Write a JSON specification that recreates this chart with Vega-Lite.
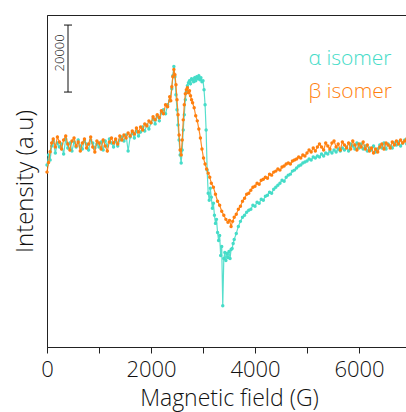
{
"$schema": "https://vega.github.io/schema/vega-lite/v6.json",
"width": 364, "height": 332,
"autosize": {"type": "none"},
"padding": {"left": 47, "top": 15, "right": 0, "bottom": 65},
"background": "white",
"config": {"view": {"stroke": "#222", "strokeWidth": 1}, "font": "Open Sans"},
"datasets": {
"alpha": [
{"x":0,"y":-6000},{"x":30,"y":-3000},{"x":60,"y":-4500},{"x":90,"y":-300},{"x":120,"y":1200},{"x":160,"y":-2400},{"x":200,"y":600},{"x":240,"y":-600},{"x":280,"y":300},{"x":320,"y":-2700},{"x":360,"y":1800},{"x":400,"y":-900},{"x":440,"y":600},{"x":480,"y":-1800},{"x":520,"y":900},{"x":560,"y":-600},{"x":600,"y":1500},{"x":640,"y":-300},{"x":680,"y":-1200},{"x":720,"y":1200},{"x":760,"y":300},{"x":800,"y":-1500},{"x":840,"y":1500},{"x":880,"y":600},{"x":920,"y":-900},{"x":960,"y":300},{"x":1000,"y":-600},{"x":1040,"y":900},{"x":1080,"y":-1500},{"x":1120,"y":1200},{"x":1160,"y":-300},{"x":1200,"y":1800},{"x":1240,"y":600},{"x":1280,"y":-600},{"x":1320,"y":1200},{"x":1360,"y":-300},{"x":1400,"y":1500},{"x":1440,"y":2400},{"x":1480,"y":1200},{"x":1520,"y":3000},{"x":1560,"y":-1800},{"x":1600,"y":2400},{"x":1640,"y":3600},{"x":1680,"y":2100},{"x":1720,"y":4200},{"x":1760,"y":2700},{"x":1800,"y":3900},{"x":1840,"y":5400},{"x":1880,"y":4200},{"x":1920,"y":6000},{"x":1960,"y":4800},{"x":2000,"y":6600},{"x":2040,"y":7800},{"x":2080,"y":6300},{"x":2120,"y":8700},{"x":2160,"y":7200},{"x":2200,"y":9600},{"x":2240,"y":10500},{"x":2280,"y":9300},{"x":2320,"y":12000},{"x":2360,"y":13200},{"x":2400,"y":16800},{"x":2420,"y":20700},{"x":2440,"y":23400},{"x":2460,"y":20400},{"x":2480,"y":15000},{"x":2500,"y":10500},{"x":2520,"y":6000},{"x":2540,"y":1500},{"x":2560,"y":-3000},{"x":2580,"y":-5400},{"x":2600,"y":-1500},{"x":2620,"y":4500},{"x":2640,"y":9000},{"x":2660,"y":13500},{"x":2680,"y":15900},{"x":2700,"y":17700},{"x":2720,"y":18600},{"x":2740,"y":19200},{"x":2760,"y":18300},{"x":2780,"y":19800},{"x":2800,"y":19500},{"x":2820,"y":18900},{"x":2840,"y":20100},{"x":2860,"y":19200},{"x":2880,"y":20400},{"x":2900,"y":19800},{"x":2920,"y":20700},{"x":2940,"y":19500},{"x":2960,"y":20100},{"x":2980,"y":18900},{"x":3000,"y":19200},{"x":3020,"y":16500},{"x":3040,"y":12000},{"x":3060,"y":4500},{"x":3080,"y":-7500},{"x":3100,"y":-14400},{"x":3120,"y":-16500},{"x":3140,"y":-12900},{"x":3160,"y":-15600},{"x":3180,"y":-18900},{"x":3200,"y":-17400},{"x":3220,"y":-21000},{"x":3240,"y":-23400},{"x":3260,"y":-22200},{"x":3280,"y":-26100},{"x":3300,"y":-28500},{"x":3320,"y":-27000},{"x":3340,"y":-33000},{"x":3360,"y":-30300},{"x":3380,"y":-48000},{"x":3400,"y":-33900},{"x":3420,"y":-32100},{"x":3440,"y":-34500},{"x":3460,"y":-32400},{"x":3480,"y":-33600},{"x":3500,"y":-31800},{"x":3520,"y":-33900},{"x":3540,"y":-31200},{"x":3560,"y":-30900},{"x":3580,"y":-29400},{"x":3600,"y":-28200},{"x":3640,"y":-26400},{"x":3680,"y":-24300},{"x":3720,"y":-22800},{"x":3760,"y":-21600},{"x":3800,"y":-21000},{"x":3840,"y":-20100},{"x":3880,"y":-19500},{"x":3920,"y":-19200},{"x":3960,"y":-18000},{"x":4000,"y":-18300},{"x":4040,"y":-17100},{"x":4080,"y":-17400},{"x":4120,"y":-16200},{"x":4160,"y":-16500},{"x":4200,"y":-15300},{"x":4240,"y":-15000},{"x":4280,"y":-14100},{"x":4320,"y":-14400},{"x":4360,"y":-13200},{"x":4400,"y":-12600},{"x":4440,"y":-12000},{"x":4480,"y":-11400},{"x":4520,"y":-10500},{"x":4560,"y":-10800},{"x":4600,"y":-9600},{"x":4640,"y":-9000},{"x":4680,"y":-8700},{"x":4720,"y":-7800},{"x":4760,"y":-7500},{"x":4800,"y":-6900},{"x":4840,"y":-6300},{"x":4880,"y":-6000},{"x":4920,"y":-5400},{"x":4960,"y":-5100},{"x":5000,"y":-4800},{"x":5040,"y":-4200},{"x":5080,"y":-4500},{"x":5120,"y":-3600},{"x":5160,"y":-3900},{"x":5200,"y":-3300},{"x":5240,"y":-3600},{"x":5280,"y":-2700},{"x":5320,"y":-3300},{"x":5360,"y":-2400},{"x":5400,"y":-2700},{"x":5440,"y":-1800},{"x":5480,"y":-2400},{"x":5520,"y":-1500},{"x":5560,"y":-2100},{"x":5600,"y":-1200},{"x":5640,"y":-1800},{"x":5680,"y":-900},{"x":5720,"y":-1500},{"x":5760,"y":-600},{"x":5800,"y":-1800},{"x":5840,"y":300},{"x":5880,"y":-300},{"x":5920,"y":-1200},{"x":5960,"y":600},{"x":6000,"y":-900},{"x":6040,"y":300},{"x":6080,"y":-1200},{"x":6120,"y":-300},{"x":6160,"y":-1800},{"x":6200,"y":-900},{"x":6240,"y":-1500},{"x":6280,"y":-300},{"x":6320,"y":-2100},{"x":6360,"y":-1200},{"x":6400,"y":0},{"x":6440,"y":-900},{"x":6480,"y":600},{"x":6520,"y":-1200},{"x":6560,"y":300},{"x":6600,"y":-300},{"x":6640,"y":-900},{"x":6680,"y":600},{"x":6720,"y":0},{"x":6760,"y":900},{"x":6800,"y":-300},{"x":6840,"y":600},{"x":6880,"y":1500},{"x":6920,"y":300},{"x":6960,"y":1200},{"x":7000,"y":0}
],
"beta": [
{"x":0,"y":-8100},{"x":30,"y":-5200},{"x":60,"y":-2000},{"x":90,"y":600},{"x":120,"y":1800},{"x":160,"y":-600},{"x":200,"y":2400},{"x":240,"y":900},{"x":280,"y":-1200},{"x":320,"y":1500},{"x":360,"y":2700},{"x":400,"y":300},{"x":440,"y":-1500},{"x":480,"y":1200},{"x":520,"y":2100},{"x":560,"y":-300},{"x":600,"y":900},{"x":640,"y":-1800},{"x":680,"y":600},{"x":720,"y":1800},{"x":760,"y":-900},{"x":800,"y":300},{"x":840,"y":2400},{"x":880,"y":-600},{"x":920,"y":-2100},{"x":960,"y":1200},{"x":1000,"y":600},{"x":1040,"y":-1200},{"x":1080,"y":1500},{"x":1120,"y":-300},{"x":1160,"y":-1800},{"x":1200,"y":900},{"x":1240,"y":2100},{"x":1280,"y":600},{"x":1320,"y":1800},{"x":1360,"y":300},{"x":1400,"y":2700},{"x":1440,"y":1500},{"x":1480,"y":3000},{"x":1520,"y":2100},{"x":1560,"y":3600},{"x":1600,"y":2700},{"x":1640,"y":4200},{"x":1680,"y":3300},{"x":1720,"y":5100},{"x":1760,"y":3900},{"x":1800,"y":5400},{"x":1840,"y":4500},{"x":1880,"y":6300},{"x":1920,"y":5700},{"x":1960,"y":7200},{"x":2000,"y":6600},{"x":2040,"y":8400},{"x":2080,"y":7500},{"x":2120,"y":9000},{"x":2160,"y":8100},{"x":2200,"y":10200},{"x":2240,"y":9300},{"x":2280,"y":12000},{"x":2320,"y":11400},{"x":2360,"y":14400},{"x":2380,"y":13200},{"x":2400,"y":17400},{"x":2420,"y":20400},{"x":2440,"y":22500},{"x":2460,"y":21000},{"x":2480,"y":18000},{"x":2500,"y":13500},{"x":2520,"y":9000},{"x":2540,"y":3000},{"x":2560,"y":-1500},{"x":2580,"y":-3000},{"x":2600,"y":1500},{"x":2620,"y":7500},{"x":2640,"y":12000},{"x":2660,"y":15300},{"x":2680,"y":16500},{"x":2700,"y":17100},{"x":2720,"y":15600},{"x":2740,"y":16200},{"x":2760,"y":14700},{"x":2780,"y":13500},{"x":2800,"y":12600},{"x":2830,"y":11100},{"x":2860,"y":8700},{"x":2890,"y":7200},{"x":2920,"y":4800},{"x":2950,"y":2100},{"x":2980,"y":-1200},{"x":3010,"y":-3900},{"x":3040,"y":-5700},{"x":3070,"y":-7200},{"x":3100,"y":-8400},{"x":3130,"y":-9600},{"x":3160,"y":-11400},{"x":3200,"y":-12600},{"x":3240,"y":-14700},{"x":3280,"y":-16800},{"x":3320,"y":-18000},{"x":3360,"y":-19800},{"x":3400,"y":-21000},{"x":3440,"y":-22200},{"x":3480,"y":-23100},{"x":3510,"y":-22500},{"x":3540,"y":-24300},{"x":3570,"y":-22800},{"x":3600,"y":-21600},{"x":3640,"y":-20700},{"x":3680,"y":-19200},{"x":3720,"y":-18300},{"x":3760,"y":-16800},{"x":3800,"y":-15900},{"x":3840,"y":-14700},{"x":3880,"y":-14400},{"x":3920,"y":-13500},{"x":3960,"y":-12600},{"x":4000,"y":-12300},{"x":4040,"y":-11400},{"x":4080,"y":-11700},{"x":4120,"y":-10500},{"x":4160,"y":-10200},{"x":4200,"y":-9600},{"x":4240,"y":-9900},{"x":4280,"y":-8700},{"x":4320,"y":-9000},{"x":4360,"y":-8100},{"x":4400,"y":-7800},{"x":4440,"y":-7200},{"x":4480,"y":-7500},{"x":4520,"y":-6600},{"x":4560,"y":-6300},{"x":4600,"y":-5700},{"x":4640,"y":-5400},{"x":4680,"y":-5700},{"x":4720,"y":-4800},{"x":4760,"y":-4500},{"x":4800,"y":-4200},{"x":4840,"y":-3600},{"x":4880,"y":-3900},{"x":4920,"y":-3000},{"x":4960,"y":-3300},{"x":5000,"y":-2400},{"x":5040,"y":-1500},{"x":5080,"y":-2100},{"x":5120,"y":-900},{"x":5160,"y":-1800},{"x":5200,"y":-600},{"x":5240,"y":300},{"x":5280,"y":-600},{"x":5320,"y":-1500},{"x":5360,"y":600},{"x":5400,"y":-300},{"x":5440,"y":-1200},{"x":5480,"y":600},{"x":5520,"y":1200},{"x":5560,"y":-600},{"x":5600,"y":300},{"x":5640,"y":-1500},{"x":5680,"y":900},{"x":5720,"y":0},{"x":5760,"y":-900},{"x":5800,"y":600},{"x":5840,"y":-1200},{"x":5880,"y":1200},{"x":5920,"y":0},{"x":5960,"y":-1500},{"x":6000,"y":300},{"x":6040,"y":-600},{"x":6080,"y":900},{"x":6120,"y":-1200},{"x":6160,"y":0},{"x":6200,"y":-1800},{"x":6240,"y":-900},{"x":6280,"y":-2400},{"x":6320,"y":-1200},{"x":6360,"y":-2100},{"x":6400,"y":-600},{"x":6440,"y":300},{"x":6480,"y":-1200},{"x":6520,"y":600},{"x":6560,"y":0},{"x":6600,"y":-900},{"x":6640,"y":900},{"x":6680,"y":0},{"x":6720,"y":1200},{"x":6760,"y":300},{"x":6800,"y":1500},{"x":6840,"y":600},{"x":6880,"y":1200},{"x":6920,"y":1800},{"x":6960,"y":900},{"x":7000,"y":1200}
]
},
"layer": [
{
"data": {"name": "alpha"},
"mark": {"type": "line", "color": "#45dcc8", "strokeWidth": 1.2, "opacity": 0.9, "point": {"filled": true, "size": 12, "color": "#45dcc8"}},
"encoding": {
"x": {"field": "x", "type": "quantitative", "scale": {"domain": [0, 7000], "nice": false},
"axis": {"title": "Magnetic field (G)", "values": [0,1000,2000,3000,4000,5000,6000,7000], "labelExpr": "datum.value % 2000 === 0 ? datum.label : ''", "format": "d", "grid": false, "domainColor": "#222", "tickColor": "#222", "tickSize": 6, "labelFontSize": 22, "titleFontSize": 23, "labelColor": "#111", "titleColor": "#111", "labelFont": "Open Sans", "titleFont": "Open Sans", "labelFontWeight": 300, "titleFontWeight": 300, "labelPadding": 6, "titlePadding": 7, "labelFlush": false,
"encode": {"ticks": {"update": {"y2": {"signal": "datum.value % 2000 === 0 ? 6 : 3"}}}}}},
"y": {"field": "y", "type": "quantitative", "scale": {"domain": [-60300, 38800], "nice": false, "zero": false},
"axis": {"title": "Intensity (a.u)", "labels": false, "ticks": false, "grid": false, "domainColor": "#222", "titleFontSize": 24, "titleColor": "#111", "titleFont": "Open Sans", "titleFontWeight": 300, "titlePadding": 10}}
}
},
{
"data": {"name": "beta"},
"mark": {"type": "line", "color": "#ff7f0e", "strokeWidth": 1.2, "opacity": 0.9, "point": {"filled": true, "size": 12, "color": "#ff7f0e"}},
"encoding": {
"x": {"field": "x", "type": "quantitative"},
"y": {"field": "y", "type": "quantitative"}
}
},
{
"data": {"values": [{}]},
"mark": {"type": "rule", "color": "#111", "strokeWidth": 1},
"encoding": {"x": {"datum": 404}, "y": {"datum": 15800}, "y2": {"datum": 35800}}
},
{
"data": {"values": [{}]},
"mark": {"type": "rule", "color": "#111", "strokeWidth": 1},
"encoding": {"x": {"datum": 327}, "x2": {"datum": 481}, "y": {"datum": 15800}}
},
{
"data": {"values": [{}]},
"mark": {"type": "rule", "color": "#111", "strokeWidth": 1},
"encoding": {"x": {"datum": 327}, "x2": {"datum": 481}, "y": {"datum": 35800}}
},
{
"data": {"values": [{}]},
"mark": {"type": "text", "text": "20000", "angle": 270, "fontSize": 13, "font": "Open Sans", "fontWeight": 300, "color": "#111", "align": "center", "baseline": "middle"},
"encoding": {"x": {"datum": 250}, "y": {"datum": 27500}}
},
{
"data": {"values": [{}]},
"mark": {"type": "text", "text": "α isomer", "fontSize": 21, "font": "Open Sans", "fontWeight": 300, "color": "#45dcc8", "align": "left", "baseline": "middle"},
"encoding": {"x": {"datum": 5030}, "y": {"datum": 25600}}
},
{
"data": {"values": [{}]},
"mark": {"type": "text", "text": "β isomer", "fontSize": 21, "font": "Open Sans", "fontWeight": 300, "color": "#ff7f0e", "align": "left", "baseline": "middle"},
"encoding": {"x": {"datum": 5030}, "y": {"datum": 15700}}
}
]
}
